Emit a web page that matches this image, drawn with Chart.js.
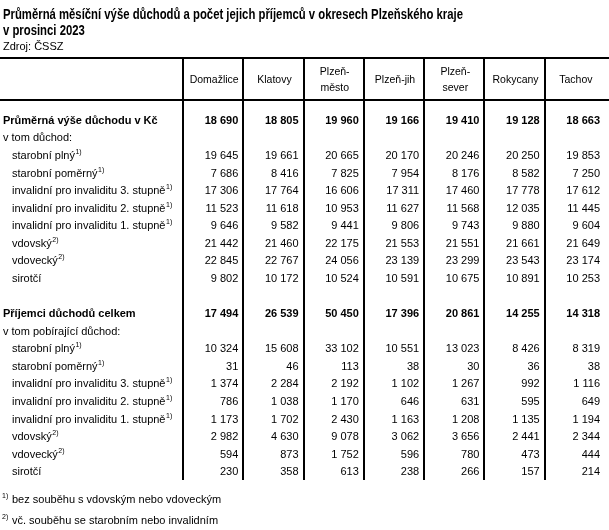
<!DOCTYPE html>
<html lang="cs">
<head>
<meta charset="utf-8">
<script src="https://cdn.jsdelivr.net/npm/chart.js@4"></script>
<style>
  html, body { margin: 0; padding: 0; background: #fff; }
  #wrap { width: 609px; height: 530px; }
</style>
</head>
<body>
<div id="wrap"><canvas id="tab" width="609" height="530"></canvas></div>
<script>
// =====================================================================
// DATA
// =====================================================================
const TITLE    = ['Průměrná měsíční výše důchodů a počet jejich příjemců v okresech Plzeňského kraje', 'v prosinci 2023'];
const SOURCE   = 'Zdroj: ČSSZ';
const OKRESY   = ['Domažlice', 'Klatovy', 'Plzeň-\nměsto', 'Plzeň-jih', 'Plzeň-\nsever', 'Rokycany', 'Tachov'];
const DRUHY    = ['starobní plný', 'starobní poměrný', 'invalidní pro invaliditu 3. stupně', 'invalidní pro invaliditu 2. stupně',
                  'invalidní pro invaliditu 1. stupně', 'vdovský', 'vdovecký', 'sirotčí'];
const DRUHY_SUP = ['1)', '1)', '1)', '1)', '1)', '2)', '2)', ''];

// průměrná výše důchodu (Kč)
const VYSE_CELKEM = [18690, 18805, 19960, 19166, 19410, 19128, 18663];
const VYSE_DRUH = [
  [19645, 19661, 20665, 20170, 20246, 20250, 19853],
  [ 7686,  8416,  7825,  7954,  8176,  8582,  7250],
  [17306, 17764, 16606, 17311, 17460, 17778, 17612],
  [11523, 11618, 10953, 11627, 11568, 12035, 11445],
  [ 9646,  9582,  9441,  9806,  9743,  9880,  9604],
  [21442, 21460, 22175, 21553, 21551, 21661, 21649],
  [22845, 22767, 24056, 23139, 23299, 23543, 23174],
  [ 9802, 10172, 10524, 10591, 10675, 10891, 10253],
];

// počet příjemců
const PRIJEMCI_CELKEM = [17494, 26539, 50450, 17396, 20861, 14255, 14318];
const PRIJEMCI_DRUH = [
  [10324, 15608, 33102, 10551, 13023, 8426, 8319],
  [   31,    46,   113,    38,    30,   36,   38],
  [ 1374,  2284,  2192,  1102,  1267,  992, 1116],
  [  786,  1038,  1170,   646,   631,  595,  649],
  [ 1173,  1702,  2430,  1163,  1208, 1135, 1194],
  [ 2982,  4630,  9078,  3062,  3656, 2441, 2344],
  [  594,   873,  1752,   596,   780,  473,  444],
  [  230,   358,   613,   238,   266,  157,  214],
];

const POZNAMKY = [['1)', 'bez souběhu s vdovským nebo vdoveckým'], ['2)', 'vč. souběhu se starobním nebo invalidním']];

// řádky tabulky (null = prázdný řádek)
const ROWS = [
  { label: 'Průměrná výše důchodu v Kč', bold: true, vals: VYSE_CELKEM },
  { label: 'v tom důchod:' },
  ...DRUHY.map((d, i) => ({ label: d, sup: DRUHY_SUP[i], indent: true, vals: VYSE_DRUH[i] })),
  null,
  { label: 'Příjemci důchodů celkem', bold: true, vals: PRIJEMCI_CELKEM },
  { label: 'v tom pobírající důchod:' },
  ...DRUHY.map((d, i) => ({ label: d, sup: DRUHY_SUP[i], indent: true, vals: PRIJEMCI_DRUH[i] })),
];

// =====================================================================
// FORMATOVÁNÍ
// =====================================================================
const fmt = v => String(v).replace(/\B(?=(\d{3})+(?!\d))/g, ' ');
const FONT = '"Liberation Sans", Arial, sans-serif';

// =====================================================================
// VYKRESLENÍ TABULKY
// =====================================================================
const tablePlugin = {
  id: 'tabulka',
  afterDraw(chart) {
    const { ctx, chartArea: a } = chart;
    const x = chart.scales.x, y = chart.scales.y;
    const colW = x.getPixelForValue(1) - x.getPixelForValue(0);
    const headTop = 58, headBot = 100;

    ctx.save();
    ctx.fillStyle = '#000';
    ctx.textBaseline = 'alphabetic';

    // --- nadpis (úzké písmo, šířka podle předlohy) ---
    ctx.font = 'bold 15px "Liberation Sans Narrow", ' + FONT;
    const w0 = ctx.measureText(TITLE[0]).width;
    const sx = 460 / w0;
    TITLE.forEach((t, i) => {
      ctx.save();
      ctx.translate(3, 19 + i * 16);
      ctx.scale(sx, 1);
      ctx.fillText(t, 0, 0);
      ctx.restore();
    });
    ctx.font = '11px ' + FONT;
    ctx.fillText(SOURCE, 3, 50);

    // --- čáry ---
    ctx.strokeStyle = '#000';
    ctx.lineWidth = 2;
    [headTop, headBot].forEach(yy => {
      ctx.beginPath(); ctx.moveTo(0, yy); ctx.lineTo(chart.width, yy); ctx.stroke();
    });
    for (let i = 0; i < OKRESY.length; i++) {
      const xx = Math.round(x.getPixelForValue(i) - colW / 2);
      ctx.beginPath(); ctx.moveTo(xx, headTop); ctx.lineTo(xx, a.bottom); ctx.stroke();
    }

    // --- hlavička ---
    ctx.font = '10.5px ' + FONT;
    ctx.textAlign = 'center';
    OKRESY.forEach((o, i) => {
      const cx = x.getPixelForValue(i) + 1;
      const lines = o.split('\n');
      const mid = (headTop + headBot) / 2 + 4;
      lines.forEach((l, k) => ctx.fillText(l, cx, mid + (k - (lines.length - 1) / 2) * 16));
    });

    // --- řádky ---
    ROWS.forEach((r, ri) => {
      if (!r) return;
      const yy = y.getPixelForValue(ri) + 4;
      ctx.textAlign = 'left';
      ctx.font = (r.bold ? 'bold ' : '') + '11px ' + FONT;
      const lx = r.indent ? 12 : 3;
      ctx.fillText(r.label, lx, yy);
      if (r.sup) {
        const lw = ctx.measureText(r.label).width;
        ctx.font = '7px ' + FONT;
        ctx.fillText(r.sup, lx + lw + 0.5, yy - 5);
        ctx.font = (r.bold ? 'bold ' : '') + '11px ' + FONT;
      }
      if (r.vals) {
        ctx.textAlign = 'right';
        r.vals.forEach((v, ci) => ctx.fillText(fmt(v), x.getPixelForValue(ci) + colW / 2 - 5, yy));
      }
    });

    // --- poznámky ---
    POZNAMKY.forEach(([s, t], i) => {
      const yy = a.bottom + 23 + i * 21;
      ctx.textAlign = 'left';
      ctx.font = '7px ' + FONT;
      ctx.fillText(s, 2, yy - 5);
      ctx.font = '11px ' + FONT;
      ctx.fillText(t, 12, yy);
    });
    ctx.restore();
  }
};

new Chart(document.getElementById('tab'), {
  type: 'bar',
  data: { labels: OKRESY, datasets: [] },
  options: {
    responsive: false,
    animation: false,
    devicePixelRatio: 1,
    layout: { padding: { left: 183, right: 4, top: 111, bottom: 50 } },
    plugins: { legend: { display: false }, tooltip: { enabled: false } },
    scales: {
      x: { type: 'category', labels: OKRESY, offset: true, display: false },
      y: { type: 'category', labels: ROWS.map((r, i) => r ? r.label + i : '' + i), offset: true, display: false },
    },
  },
  plugins: [tablePlugin],
});
</script>
</body>
</html>
